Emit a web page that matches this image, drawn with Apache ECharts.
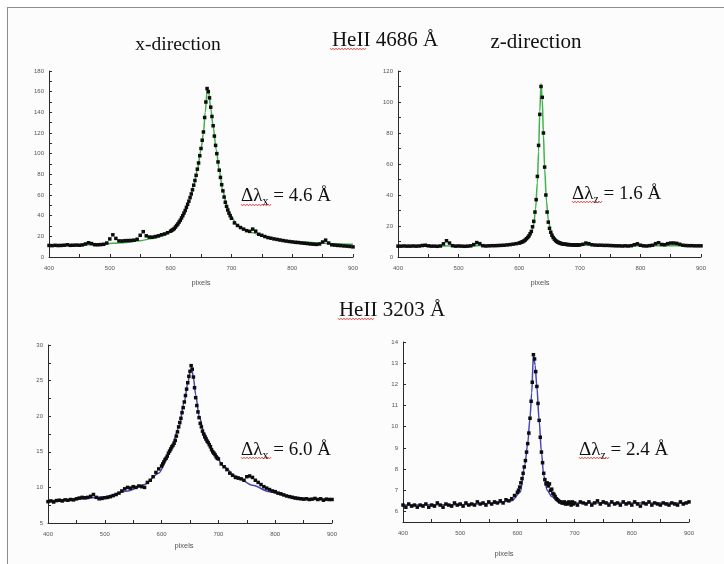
<!DOCTYPE html>
<html>
<head>
<meta charset="utf-8">
<title>HeII line profiles</title>
<script src="https://cdn.jsdelivr.net/npm/echarts@6/dist/echarts.min.js"></script>
<style>
  html, body { margin: 0; padding: 0; background: #fff; }
  #frame { position: absolute; left: 7px; top: 7px; width: 717px; height: 557px; background: #fbfcfb;
           border-top: 1.5px solid #8c8c8c; border-left: 1.5px solid #8c8c8c; box-sizing: border-box; }
  #main { position: absolute; left: 0; top: 0; width: 724px; height: 564px; }
</style>
</head>
<body>
<div id="frame"></div>
<div id="main"></div>
<script>
// pixel positions shared by all four measured spectra
const pixelGrid = [
  400,405,410,415,420,425,430,435,440,445,450,455,460,465,470,475,480,485,490,495,
  500,505,510,515,520,525,530,535,540,545,550,555,560,565,570,575,580,585,590,595,600,
  602,604,606,608,610,612,614,616,618,620,622,624,626,628,630,632,634,636,638,640,
  642,644,646,648,650,652,654,656,658,660,662,664,666,668,670,672,674,676,678,680,
  682,684,686,688,690,692,694,696,698,700,
  705,710,715,720,725,730,735,740,745,750,755,760,765,770,775,780,785,790,795,800,
  805,810,815,820,825,830,835,840,845,850,855,860,865,870,875,880,885,890,895,900
]

// HeII 4686, x-direction (measured)
const he4686x = [
  11.2,11.0,11.3,11.1,11.2,11.4,11.8,11.3,11.4,11.5,11.4,11.7,12.6,13.8,13.0,11.9,11.8,12.0,12.3,13.5,
  17.5,21.5,18.0,15.6,15.5,15.8,15.9,16.0,16.3,17.2,21.0,24.5,20.5,19.3,19.2,19.8,20.5,21.5,22.3,23.5,25.0,
  25.8,26.6,27.5,29.0,30.5,32.0,33.8,35.6,37.8,40.0,42.5,45,48,51,54,57.5,61,65,69.5,74,
  79,85,91,98,105,113,121,135,150,163,160,154,145,136,127,117,108,100,92,84,
  77,70,64,58,53,49,45.5,42.5,40,37.5,
  33,30.5,28.5,27.0,25.5,24.8,27.0,25.0,22.0,21.0,19.8,18.8,18.2,17.5,17.0,16.4,15.9,15.4,15.0,14.6,
  14.2,14.0,13.6,13.3,13.0,12.6,12.4,12.2,12.6,14.5,16.3,13.5,11.8,11.5,11.2,11.0,10.7,10.5,10.2,9.8
]
// HeII 4686, z-direction (measured)
const he4686z = [
  7.0,7.0,7.1,7.0,7.0,7.1,7.0,7.1,7.4,7.6,7.2,7.0,7.0,6.9,7.1,8.5,10.5,9.0,7.3,7.0,
  7.1,7.0,6.9,7.0,7.2,8.0,9.3,8.6,7.3,7.1,7.2,7.3,7.3,7.4,7.5,7.6,7.8,8.0,8.3,8.6,9.0,
  9.3,9.6,9.9,10.4,11.0,11.8,12.6,13.6,15.0,16.5,19.5,23,29,37,52,72,92,110,103,80,
  58,40,29,22.5,18.5,16,14,12.6,11.5,10.6,10.0,9.5,9.1,8.8,8.6,8.4,8.3,8.2,8.1,8.0,
  8.0,7.9,7.9,7.8,7.8,7.7,7.7,7.7,7.8,7.8,
  8.2,9.0,8.6,7.9,7.7,7.6,7.6,7.5,7.5,7.4,7.3,7.2,7.2,7.1,7.2,7.1,7.3,7.9,8.5,7.6,
  7.2,7.1,7.3,7.6,8.6,9.2,8.1,7.9,8.6,9.0,9.0,8.8,8.2,7.6,7.4,7.3,7.3,7.2,7.2,7.2
]
// HeII 3203, x-direction (measured)
const he3203x = [
  8.0,8.1,7.95,8.15,8.2,8.1,8.25,8.2,8.3,8.25,8.4,8.5,8.6,8.55,8.6,8.75,9.0,8.6,8.4,8.45,
  8.55,8.6,8.7,8.85,9.0,9.2,9.5,9.8,10.0,9.9,10.1,10.0,10.2,10.1,10.0,10.7,11.0,11.5,12.1,12.6,13.0,
  13.3,13.6,13.9,14.1,14.4,14.8,15.1,15.4,15.7,15.9,16.2,16.6,17.2,17.8,18.5,19.1,19.7,20.5,21.2,22.0,
  22.9,23.8,24.7,25.6,26.3,27.1,26.6,25.5,24.0,22.6,21.5,20.6,19.8,19.0,18.5,17.9,17.5,17.1,16.8,16.5,
  16.3,16.0,15.7,15.3,15.0,14.8,14.6,14.3,14.1,14.0,
  13.3,12.9,12.5,12.0,11.7,11.4,11.3,11.2,11.0,11.5,11.6,11.4,11.0,10.7,10.4,10.1,9.9,9.7,9.5,9.4,
  9.2,9.1,8.95,8.8,8.7,8.6,8.5,8.45,8.4,8.35,8.4,8.3,8.35,8.45,8.3,8.4,8.2,8.35,8.3,8.3
]
// HeII 3203, z-direction (measured)
const he3203z = [
  6.3,6.2,6.35,6.25,6.3,6.2,6.3,6.25,6.35,6.2,6.3,6.25,6.4,6.3,6.2,6.35,6.3,6.25,6.4,6.3,
  6.35,6.25,6.4,6.3,6.35,6.3,6.45,6.35,6.4,6.3,6.45,6.35,6.45,6.4,6.5,6.4,6.55,6.5,6.6,6.75,6.9,
  7.0,7.15,7.35,7.55,7.8,8.1,8.4,8.8,9.2,9.7,10.4,11.2,12.1,13.4,13.2,12.6,11.9,11.1,10.3,9.5,
  8.8,8.3,7.8,7.5,7.3,7.35,7.2,7.3,7.0,7.05,6.85,6.8,6.7,6.6,6.55,6.5,6.45,6.45,6.4,6.4,
  6.45,6.35,6.4,6.35,6.45,6.4,6.3,6.45,6.35,6.4,
  6.3,6.45,6.4,6.35,6.45,6.3,6.4,6.5,6.35,6.45,6.4,6.3,6.45,6.35,6.4,6.3,6.45,6.35,6.4,6.3,
  6.45,6.35,6.25,6.4,6.35,6.45,6.3,6.4,6.35,6.3,6.4,6.35,6.3,6.4,6.35,6.3,6.45,6.35,6.4,6.45
]

// fitted profiles
const fitX1 = [400,430,460,490,520,550,570,590,600,610,620,630,638,644,650,654,657,660,663,666,670,675,680,686,692,700,710,720,735,750,770,800,840,880,900]
const fitY1 = [11.0,11.3,11.8,12.6,13.9,15.8,17.8,21.0,24.0,29.5,39,53,69,84,104,120,140,161,158,144,126,104,84,64,50,38.5,31,27,23.5,20.5,17.8,15.2,13.6,12.7,12.4]
const fitX2 = [400,450,500,550,580,600,610,616,620,624,627,630,632,634,636,638,640,642,645,648,652,658,665,675,690,720,780,850,900]
const fitY2 = [7.0,7.1,7.2,7.4,7.8,8.6,10.5,12.5,15.5,21,31,48,68,94,112,102,79,57,36,24,17,12.5,10.2,8.8,8.0,7.6,7.3,7.2,7.2]
const fitX3 = [400,450,500,540,570,595,615,630,640,646,650,653,656,660,666,675,690,710,730,760,790,820,860,900]
const fitY3 = [8.1,8.3,8.7,9.5,10.4,12.0,14.9,18.3,22.0,24.6,26.1,26.8,25.4,23.0,20.0,17.6,15.1,12.9,11.6,10.3,9.4,8.8,8.4,8.3]
const fitX4 = [400,500,560,590,605,613,618,622,625,628,631,634,638,642,646,652,660,670,690,750,900]
const fitY4 = [6.3,6.32,6.38,6.5,6.9,8.2,9.2,10.4,11.6,13.4,12.9,11.9,10.3,8.8,7.7,7.0,6.7,6.5,6.4,6.4,6.4]

const yTicks4 = [6, 7, 8, 9, 10, 11, 12, 13, 14]

const titles = ['x-direction', 'HeII 4686 Å', 'z-direction', 'HeII 3203 Å']
const widths = ['4.6', '1.6', '6.0', '2.4']

const axisColor = '#2a2a2a'
const labelFont = { fontSize: 6, color: '#555', fontFamily: 'Liberation Sans' }

function xAx(i, gap, padRight) {
  return {
    gridIndex: i, type: 'value', min: 400, max: 900, interval: 100,
    name: 'pixels', nameLocation: 'middle', nameGap: gap,
    nameTextStyle: { fontSize: 7.5, color: '#555', fontFamily: 'Liberation Sans', padding: [0, padRight, 0, 0] },
    axisLine: { lineStyle: { color: axisColor, width: 1 } },
    axisTick: { inside: true, length: 3, lineStyle: { color: axisColor } },
    minorTick: { show: true, splitNumber: 2, length: 3, lineStyle: { color: axisColor } },
    axisLabel: { ...labelFont, margin: 8 },
    splitLine: { show: false }
  }
}
function yAx(i, min, max, interval) {
  return {
    gridIndex: i, type: 'value', min, max, interval,
    axisLine: { show: true, lineStyle: { color: axisColor, width: 1 } },
    axisTick: { show: true, inside: true, length: 3, lineStyle: { color: axisColor } },
    minorTick: { show: true, splitNumber: 2, length: 3, lineStyle: { color: axisColor } },
    axisLabel: { ...labelFont, margin: 5 },
    splitLine: { show: false }
  }
}

function pairs(xs, ys) { return xs.map((x, k) => [x, ys[k]]) }

function fitSeries(i, xs, ys, color) {
  return {
    type: 'line', xAxisIndex: i, yAxisIndex: i, data: pairs(xs, ys),
    showSymbol: false, smooth: 0.3, smoothMonotone: 'x', silent: true, z: 2,
    lineStyle: { color, width: 1.5 }
  }
}
function dataSeries(i, ys) {
  return {
    type: 'scatter', xAxisIndex: i, yAxisIndex: i, data: pairs(pixelGrid, ys),
    symbol: 'rect', symbolSize: 3.5, silent: true, z: 3,
    itemStyle: { color: '#0c0c0c', opacity: 1 }
  }
}

// red spell-check underline
function squiggle(x0, x1, y) {
  const pts = []
  for (let x = x0, k = 0; x <= x1; x += 1.5, k++) pts.push([x, y + (k % 2 ? 0.9 : -0.9)])
  return { type: 'polyline', silent: true, shape: { points: pts }, style: { stroke: '#d42a2a', lineWidth: 0.8, fill: null } }
}
function title(x, y, text, size) {
  return { type: 'text', x, y, silent: true,
    style: { text, fontSize: size, fontFamily: 'Liberation Serif', fill: '#111', align: 'center', verticalAlign: 'middle' } }
}
function delta(x, y, sub, val) {
  return { type: 'text', x, y, silent: true,
    style: {
      text: '{a|Δλ}{s|' + sub + '}{a| = ' + val + ' Å}',
      align: 'left', verticalAlign: 'middle', fill: '#111',
      rich: {
        a: { fontSize: 19, fontFamily: 'Liberation Serif', lineHeight: 24, fill: '#111' },
        s: { fontSize: 12, fontFamily: 'Liberation Serif', lineHeight: 12, verticalAlign: 'bottom', fill: '#111' }
      }
    } }
}

const chart = echarts.init(document.getElementById('main'))
chart.setOption({
  animation: false,
  backgroundColor: 'transparent',
  grid: [
    { left: 49, top: 71, width: 304, height: 186 },
    { left: 398, top: 71, width: 303, height: 186 },
    { left: 48, top: 345, width: 284, height: 178 },
    { left: 403, top: 342, width: 286, height: 180 }
  ],
  xAxis: [xAx(0, 22, 0), xAx(1, 22, 19), xAx(2, 19, 12), xAx(3, 28, 84)],
  yAxis: [
    yAx(0, 0, 180, 20),
    yAx(1, 0, 120, 20),
    yAx(2, 5, 30, 5),
    Object.assign(yAx(3, 5.5, 14), {
      axisLabel: { ...labelFont, margin: 5, customValues: yTicks4 },
      axisTick: { show: true, inside: true, length: 3, lineStyle: { color: axisColor }, customValues: yTicks4 },
      minorTick: { show: false }
    })
  ],
  series: [
    fitSeries(0, fitX1, fitY1, '#3fb24b'),
    dataSeries(0, he4686x),
    fitSeries(1, fitX2, fitY2, '#3fb24b'),
    dataSeries(1, he4686z),
    fitSeries(2, fitX3, fitY3, '#4646b4'),
    dataSeries(2, he3203x),
    fitSeries(3, fitX4, fitY4, '#4646b4'),
    dataSeries(3, he3203z)
  ],
  graphic: [
    title(178, 45, titles[0], 19.5),
    title(385, 40, titles[1], 21),
    title(536, 42, titles[2], 21),
    title(392, 310, titles[3], 21),
    delta(241, 196, 'x', widths[0]),
    delta(572, 194, 'z', widths[1]),
    delta(241, 450, 'x', widths[2]),
    delta(579, 450, 'z', widths[3]),
    squiggle(330, 366, 49),
    squiggle(338, 375, 319),
    squiggle(241, 271, 205),
    squiggle(572, 602, 202),
    squiggle(241, 271, 458),
    squiggle(579, 609, 458)
  ]
})
</script>
</body>
</html>
